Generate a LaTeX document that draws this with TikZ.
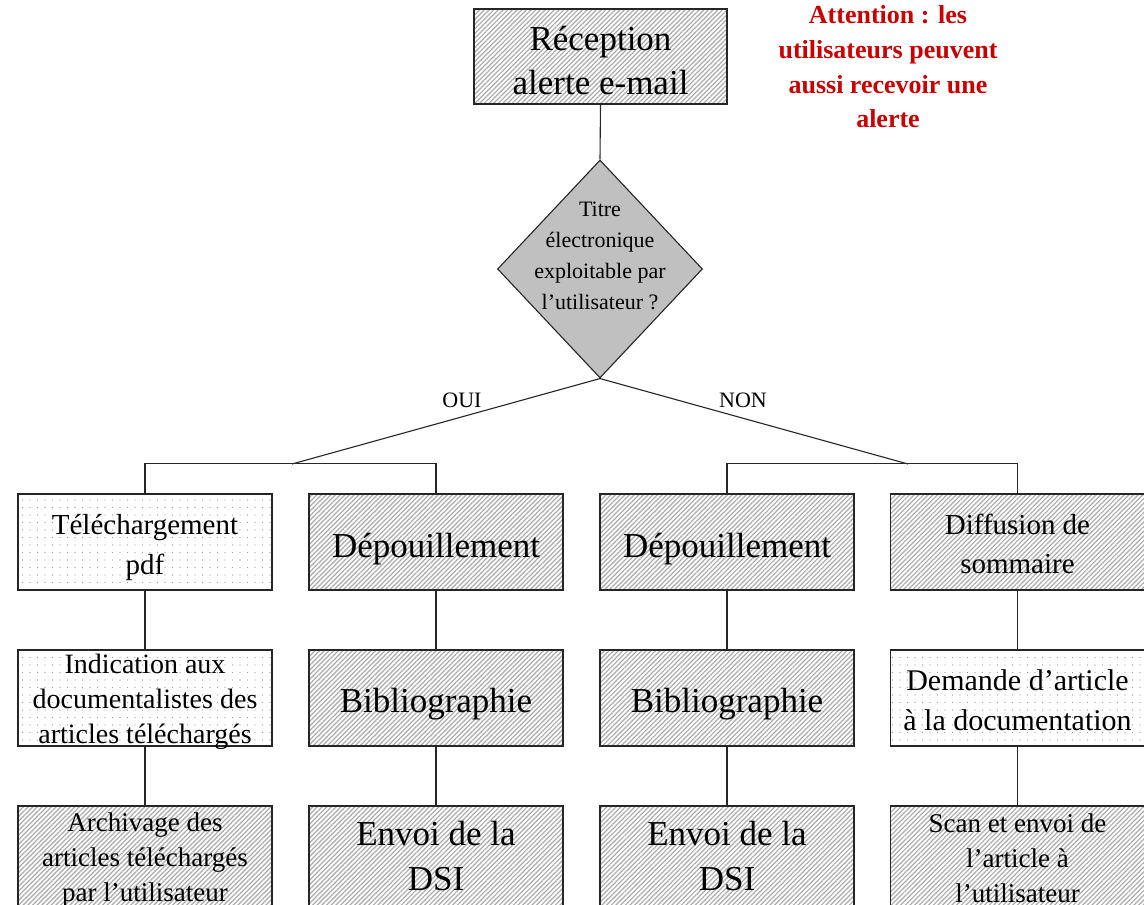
\documentclass[tikz,border=0pt]{standalone}
\usepackage{fontspec}
\setmainfont{Liberation Serif}
\usetikzlibrary{shapes.geometric,patterns.meta}

\definecolor{alertred}{RGB}{204,0,0}
\definecolor{diagray}{RGB}{192,192,192}
\newcommand\setfs[2]{\fontsize{#1pt}{#2pt}\selectfont}
% centred lines of a box, lowered by the optional amount without changing the box size
\newcommand\boxtext[2][5pt]{\raisebox{-#1}[\height][\depth]{\parbox{250pt}{\centering #2}}}

\tikzset{
  box/.style={draw=black!85, line width=1.2pt, minimum width=254pt,
    minimum height=96pt, inner sep=0pt, align=center},
  hatchbox/.style={box, pattern={Lines[angle=45,distance=3.3pt,line width=1.2pt]},
    pattern color=black!33},
  dotbox/.style={box, pattern={Dots[distance=7.5pt,radius=0.6pt]},
    pattern color=black!40},
  link/.style={draw=black!85, line width=1.1pt},
  branchlabel/.style={inner sep=0pt, font=\setfs{22}{26}},
}

\begin{document}
\begin{tikzpicture}[x=1pt,y=-1pt]
  \useasboundingbox (0,0) rectangle (1144,905);
  \fill[white] (0,0) rectangle (1144,905);
  \clip (0,0) rectangle (1144,905);

  % top of the flow
  \node[hatchbox, minimum width=253pt, minimum height=95pt,
        font=\setfs{35}{44}] (recv) at (600.5,56.5) {\boxtext[4pt]{Réception\\alerte e-mail}};

  \node[text=alertred, align=center, font=\bfseries\setfs{26}{34.7}]
       (note) at (888,67) {Attention : les\\utilisateurs peuvent\\aussi recevoir une\\alerte};

  % decision
  \node[diamond, draw=black!85, line width=1.1pt, fill=diagray, inner sep=0pt,
        minimum width=205pt, minimum height=218pt] (dec) at (600,269) {};
  \node[align=center, inner sep=0pt, font=\setfs{22}{30.8}]
       (dectext) at (600,256) {Titre\\électronique\\exploitable par\\l’utilisateur ?};

  \draw[link] (recv.south) -- (dec.north);

  % first row
  \node[dotbox, font=\setfs{29}{40}]   (a1) at (145,542)    {\boxtext[5pt]{Téléchargement\\pdf}};
  \node[hatchbox, font=\setfs{35}{44}] (b1) at (436,542)    {\boxtext[7pt]{Dépouillement}};
  \node[hatchbox, font=\setfs{35}{44}] (c1) at (727,542)    {\boxtext[7pt]{Dépouillement}};
  \node[hatchbox, font=\setfs{29}{39}] (d1) at (1017.5,542) {\boxtext[2pt]{Diffusion de\\sommaire}};

  % second row
  \node[dotbox, font=\setfs{28}{35}]   (a2) at (145,698)    {\boxtext[4pt]{Indication aux\\documentalistes des\\articles téléchargés}};
  \node[hatchbox, font=\setfs{35}{44}] (b2) at (436,698)    {\boxtext[6pt]{Bibliographie}};
  \node[hatchbox, font=\setfs{35}{44}] (c2) at (727,698)    {\boxtext[6pt]{Bibliographie}};
  \node[dotbox, font=\setfs{30}{40}]   (d2) at (1017.5,698) {\boxtext[2pt]{Demande d’article\\à la documentation}};

  % third row
  \node[hatchbox, minimum height=100pt, font=\setfs{27}{35}] (a3) at (145,856)    {\boxtext[4pt]{Archivage des\\articles téléchargés\\par l’utilisateur}};
  \node[hatchbox, minimum height=100pt, font=\setfs{35}{45}] (b3) at (436,856)    {\boxtext[0pt]{Envoi de la\\DSI}};
  \node[hatchbox, minimum height=100pt, font=\setfs{35}{45}] (c3) at (727,856)    {\boxtext[0pt]{Envoi de la\\DSI}};
  \node[hatchbox, minimum height=100pt, font=\setfs{27}{35}] (d3) at (1017.5,856) {\boxtext[2pt]{Scan et envoi de\\l’article à\\l’utilisateur}};

  % branches
  \coordinate (ouiend) at (292,464);
  \coordinate (nonend) at (908,464);
  \draw[link] (dec.south) -- (ouiend);
  \draw[link] (dec.south) -- (nonend);
  \draw[link] (a1.north) -- ++(0,-30) -| (b1.north);
  \draw[link] (c1.north) -- ++(0,-30) -| (d1.north);
  \node[branchlabel] (oui) at (462,400) {OUI};
  \node[branchlabel] (non) at (743,400) {NON};

  % columns
  \foreach \c in {a,b,c,d}{
    \draw[link] (\c1.south) -- (\c2.north);
    \draw[link] (\c2.south) -- (\c3.north);
  }
\end{tikzpicture}
\end{document}
